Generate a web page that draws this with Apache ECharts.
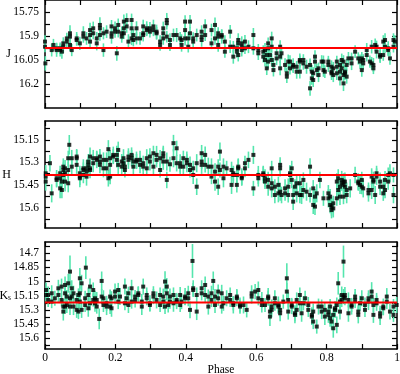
<!DOCTYPE html>
<html><head><meta charset="utf-8">
<script src="https://cdn.jsdelivr.net/npm/echarts@6/dist/echarts.min.js"></script>
<style>html,body{margin:0;padding:0;background:#fff}#c{width:400px;height:374px}</style>
</head><body><div id="c"></div>
<script>
// ---- data ----
const phaseTicks = [0,0.1,0.2,0.3,0.4,0.5,0.6,0.7,0.8,0.9,1];
const phaseLabels = [0,0.2,0.4,0.6,0.8,1];

const jRange = [15.675, 16.35];
const hRange = [15.025, 15.735];
const ksRange = [14.58, 15.715];

const jLabels = [15.75,15.9,16.05,16.2];
const hLabels = [15.15,15.3,15.45,15.6];
const ksLabels = [14.7,14.85,15,15.15,15.3,15.45,15.6];

const jTicks = [15.75,15.825,15.9,15.975,16.05,16.125,16.2,16.275];
const hTicks = [15.075,15.15,15.225,15.3,15.375,15.45,15.525,15.6,15.675];
const ksTicks = [14.625,14.7,14.775,14.85,14.925,15,15.075,15.15,15.225,15.3,15.375,15.45,15.525,15.6,15.675];

const jMean = 15.975;
const hMean = 15.383;
const ksMean = 15.223;

// [phase, magnitude, error]
const jPoints = [
[0.000,15.935,0.040],[0.000,15.967,0.035],[0.001,16.071,0.045],[0.019,15.988,0.040],[0.024,15.956,0.038],
[0.033,15.977,0.035],[0.033,15.988,0.042],[0.043,15.988,0.040],[0.043,15.977,0.036],[0.048,15.998,0.044],
[0.052,15.967,0.040],[0.052,15.946,0.038],[0.062,15.935,0.042],[0.062,15.915,0.036],[0.071,15.904,0.045],
[0.071,15.883,0.050],[0.071,15.956,0.040],[0.076,15.988,0.038],[0.090,15.915,0.040],[0.090,15.925,0.036],
[0.099,15.946,0.042],[0.109,15.904,0.038],[0.109,15.883,0.044],[0.118,15.915,0.040],[0.128,15.863,0.046],
[0.128,15.894,0.036],[0.128,15.935,0.040],[0.137,15.852,0.042],[0.137,15.883,0.038],[0.147,15.915,0.040],
[0.147,15.946,0.044],[0.156,15.831,0.048],[0.156,15.894,0.036],[0.156,15.852,0.040],[0.166,15.988,0.042],
[0.166,15.883,0.038],[0.175,15.873,0.040],[0.189,15.883,0.036],[0.189,15.904,0.044],[0.189,15.840,0.040],
[0.199,15.852,0.042],[0.199,15.873,0.038],[0.204,16.008,0.046],[0.208,15.831,0.040],[0.208,15.873,0.036],
[0.218,15.883,0.042],[0.218,15.904,0.038],[0.224,15.810,0.044],[0.224,15.852,0.040],[0.224,15.883,0.036],
[0.232,15.800,0.042],[0.232,15.840,0.040],[0.237,15.935,0.046],[0.246,15.800,0.040],[0.246,15.852,0.038],
[0.246,15.915,0.042],[0.251,15.894,0.036],[0.251,15.925,0.040],[0.260,15.852,0.044],[0.260,15.915,0.038],
[0.270,15.915,0.040],[0.279,15.840,0.042],[0.279,15.883,0.036],[0.279,15.894,0.040],[0.289,15.863,0.038],
[0.289,15.852,0.044],[0.298,15.852,0.040],[0.298,15.873,0.036],[0.308,15.840,0.042],[0.308,15.863,0.038],
[0.317,15.883,0.040],[0.317,15.873,0.044],[0.327,15.935,0.040],[0.327,15.956,0.036],[0.336,15.852,0.042],
[0.336,15.883,0.038],[0.336,15.915,0.040],[0.346,15.800,0.044],[0.346,15.820,0.040],[0.346,15.904,0.036],
[0.355,15.925,0.042],[0.355,15.956,0.038],[0.365,15.894,0.040],[0.374,15.894,0.044],[0.384,15.915,0.040],
[0.388,15.925,0.036],[0.388,15.956,0.042],[0.398,15.810,0.040],[0.398,15.863,0.038],[0.398,15.915,0.044],
[0.407,15.915,0.040],[0.407,15.967,0.036],[0.412,15.810,0.042],[0.412,15.883,0.040],[0.421,15.915,0.038],
[0.421,15.935,0.044],[0.431,15.894,0.040],
[0.445,15.873,0.040],[0.445,15.904,0.036],[0.445,15.925,0.042],[0.455,15.840,0.044],[0.455,15.894,0.038],
[0.473,15.863,0.040],[0.473,15.946,0.036],[0.483,15.831,0.046],[0.483,15.915,0.040],[0.492,15.883,0.038],
[0.492,15.956,0.042],[0.492,15.904,0.040],[0.502,15.894,0.036],[0.502,15.904,0.044],[0.511,15.935,0.040],
[0.511,15.998,0.038],[0.526,15.873,0.042],[0.526,15.967,0.040],[0.535,15.967,0.036],[0.535,16.029,0.044],
[0.545,15.977,0.040],[0.545,15.998,0.038],[0.549,15.925,0.042],[0.549,15.946,0.036],[0.549,16.019,0.040],
[0.559,15.946,0.044],[0.559,15.988,0.040],[0.559,15.967,0.038],[0.568,15.935,0.042],[0.568,15.977,0.036],
[0.578,15.967,0.040],[0.592,15.894,0.044],[0.592,15.977,0.040],[0.606,15.988,0.038],[0.606,16.008,0.042],
[0.620,15.998,0.040],[0.620,16.029,0.036],[0.625,15.988,0.044],[0.625,16.050,0.040],[0.630,16.019,0.038],
[0.630,16.102,0.042],[0.634,15.977,0.040],[0.634,15.946,0.036],[0.634,16.060,0.044],[0.639,16.019,0.040],
[0.644,15.915,0.042],[0.644,15.967,0.038],[0.644,16.050,0.040],[0.649,16.081,0.044],[0.649,16.113,0.040],
[0.658,16.008,0.036],[0.658,16.040,0.042],[0.668,15.967,0.040],[0.668,16.029,0.038],[0.668,16.102,0.044],
[0.672,16.008,0.040],[0.682,16.081,0.042],[0.687,16.154,0.040],[0.687,16.133,0.036],[0.691,16.060,0.044],
[0.696,16.060,0.040],[0.696,16.102,0.038],[0.705,16.081,0.042],[0.705,16.092,0.040],[0.715,16.092,0.036],
[0.715,16.123,0.044],[0.724,16.050,0.040],[0.724,16.060,0.038],[0.724,16.123,0.042],[0.734,16.071,0.040],
[0.734,16.050,0.036],[0.743,16.092,0.044],[0.753,16.081,0.040],[0.753,16.227,0.046],[0.758,16.123,0.042],
[0.758,16.165,0.040],[0.762,16.175,0.044],[0.762,16.133,0.038],[0.767,16.029,0.040],[0.767,16.060,0.042],
[0.772,16.113,0.040],[0.777,16.102,0.036],[0.777,16.144,0.044],[0.786,16.060,0.040],[0.791,16.060,0.038],
[0.791,16.113,0.042],[0.795,16.123,0.040],[0.805,16.060,0.036],[0.805,16.081,0.044],[0.814,16.092,0.040],
[0.814,16.133,0.042],[0.814,16.123,0.038],[0.819,16.102,0.040],[0.819,16.144,0.044],[0.829,16.092,0.040],
[0.829,16.060,0.036],[0.829,16.133,0.042],[0.838,16.123,0.040],[0.838,16.081,0.038],[0.838,16.165,0.044],
[0.843,16.050,0.040],[0.843,16.102,0.042],[0.848,16.060,0.040],[0.848,16.144,0.036],[0.848,16.196,0.048],
[0.852,16.123,0.040],[0.852,16.133,0.042],[0.857,16.081,0.038],[0.857,16.154,0.044],[0.862,16.040,0.040],
[0.871,16.040,0.036],[0.871,16.071,0.042],[0.881,15.998,0.040],[0.890,16.040,0.038],[0.895,16.060,0.044],
[0.900,16.040,0.040],[0.900,16.113,0.042],[0.904,16.071,0.040],[0.904,16.050,0.036],[0.914,15.988,0.044],
[0.914,16.019,0.040],[0.923,16.060,0.038],[0.928,15.967,0.042],[0.928,16.071,0.040],[0.933,16.102,0.036],
[0.933,16.081,0.044],[0.938,15.956,0.040],[0.942,15.998,0.042],[0.942,15.967,0.038],[0.952,16.029,0.040],
[0.952,16.019,0.044],[0.961,15.935,0.040],[0.961,16.019,0.036],[0.966,15.925,0.042],[0.966,15.967,0.040],
[0.975,15.988,0.038],[0.975,15.977,0.044],[0.980,16.040,0.040],[0.990,15.925,0.042],[0.990,15.967,0.036],
[0.994,15.935,0.040]
];

const hPoints = [
[0.002,15.372,0.055],[0.002,15.394,0.050],[0.002,15.427,0.060],[0.014,15.305,0.055],[0.019,15.505,0.060],
[0.033,15.416,0.050],[0.033,15.405,0.055],[0.043,15.405,0.060],[0.043,15.372,0.050],[0.043,15.472,0.065],
[0.048,15.483,0.055],[0.048,15.427,0.060],[0.052,15.350,0.050],[0.052,15.328,0.055],[0.052,15.383,0.060],
[0.057,15.372,0.050],[0.057,15.339,0.055],[0.057,15.427,0.065],[0.066,15.350,0.055],[0.066,15.272,0.050],
[0.066,15.438,0.060],[0.069,15.183,0.065],[0.076,15.272,0.055],[0.076,15.328,0.050],[0.090,15.272,0.055],
[0.090,15.316,0.060],[0.090,15.261,0.050],[0.099,15.394,0.055],[0.099,15.405,0.060],[0.099,15.372,0.050],
[0.109,15.383,0.055],[0.109,15.350,0.050],[0.109,15.339,0.060],[0.118,15.339,0.055],[0.118,15.361,0.050],
[0.118,15.394,0.060],[0.123,15.316,0.055],[0.123,15.294,0.050],[0.128,15.261,0.060],[0.128,15.350,0.055],
[0.128,15.339,0.050],[0.137,15.272,0.055],[0.137,15.305,0.060],[0.147,15.272,0.050],[0.147,15.283,0.055],
[0.156,15.294,0.060],[0.156,15.261,0.050],[0.156,15.316,0.055],[0.166,15.283,0.050],[0.166,15.339,0.060],
[0.175,15.339,0.055],[0.175,15.283,0.050],[0.180,15.212,0.060],[0.180,15.405,0.055],[0.185,15.394,0.050],
[0.185,15.316,0.060],[0.185,15.272,0.055],[0.194,15.261,0.050],[0.194,15.250,0.055],[0.204,15.250,0.060],
[0.204,15.283,0.050],[0.208,15.217,0.055],[0.208,15.316,0.060],[0.218,15.294,0.050],[0.218,15.328,0.055],
[0.223,15.272,0.060],[0.223,15.305,0.050],[0.227,15.328,0.055],[0.227,15.350,0.050],[0.237,15.283,0.060],
[0.237,15.261,0.055],[0.246,15.250,0.050],[0.246,15.272,0.055],[0.251,15.328,0.060],[0.251,15.294,0.050],
[0.260,15.283,0.055],[0.260,15.294,0.050],[0.270,15.283,0.060],[0.270,15.316,0.055],[0.279,15.305,0.050],
[0.279,15.328,0.055],[0.289,15.272,0.060],[0.289,15.339,0.050],[0.298,15.261,0.055],[0.298,15.294,0.060],
[0.308,15.239,0.050],[0.308,15.328,0.055],[0.317,15.250,0.060],[0.317,15.283,0.050],[0.327,15.272,0.055],
[0.327,15.350,0.050],[0.336,15.261,0.060],[0.336,15.294,0.055],[0.336,15.239,0.050],[0.346,15.416,0.055],
[0.346,15.294,0.060],[0.355,15.312,0.050],[0.365,15.172,0.055],[0.365,15.272,0.060],[0.374,15.206,0.050],
[0.374,15.305,0.055],[0.384,15.305,0.060],[0.384,15.328,0.050],[0.393,15.328,0.055],[0.393,15.272,0.050],
[0.403,15.305,0.060],[0.403,15.283,0.055],[0.412,15.350,0.050],[0.412,15.316,0.055],[0.421,15.383,0.060],
[0.421,15.339,0.050],[0.431,15.461,0.055],[0.431,15.305,0.060],
[0.445,15.239,0.055],[0.445,15.294,0.050],[0.445,15.316,0.060],[0.455,15.250,0.055],[0.455,15.316,0.050],
[0.464,15.328,0.060],[0.473,15.328,0.055],[0.473,15.394,0.050],[0.483,15.361,0.055],[0.483,15.427,0.060],
[0.492,15.328,0.050],[0.492,15.461,0.055],[0.497,15.228,0.060],[0.497,15.350,0.050],[0.507,15.328,0.055],
[0.507,15.405,0.060],[0.516,15.339,0.050],[0.530,15.350,0.055],[0.530,15.449,0.060],[0.535,15.372,0.050],
[0.535,15.383,0.055],[0.545,15.383,0.060],[0.545,15.449,0.050],[0.549,15.328,0.055],[0.549,15.339,0.060],
[0.559,15.405,0.050],[0.559,15.394,0.055],[0.568,15.339,0.060],[0.568,15.305,0.050],[0.578,15.283,0.055],
[0.592,15.250,0.060],[0.592,15.472,0.050],[0.606,15.405,0.055],[0.606,15.383,0.060],[0.620,15.372,0.050],
[0.620,15.383,0.055],[0.625,15.405,0.060],[0.625,15.427,0.050],[0.634,15.416,0.055],[0.634,15.461,0.060],
[0.644,15.339,0.050],[0.644,15.438,0.055],[0.644,15.472,0.060],[0.653,15.516,0.055],[0.653,15.461,0.050],
[0.663,15.505,0.060],[0.663,15.449,0.055],[0.668,15.316,0.050],[0.668,15.339,0.055],[0.668,15.494,0.060],
[0.672,15.516,0.055],[0.682,15.505,0.050],[0.682,15.472,0.060],[0.691,15.461,0.055],[0.691,15.516,0.050],
[0.696,15.372,0.055],[0.696,15.383,0.060],[0.701,15.339,0.050],[0.701,15.416,0.055],[0.705,15.516,0.060],
[0.705,15.560,0.055],[0.710,15.461,0.050],[0.715,15.438,0.055],[0.715,15.505,0.060],[0.724,15.438,0.050],
[0.724,15.516,0.055],[0.729,15.516,0.060],[0.734,15.483,0.055],[0.734,15.416,0.050],[0.743,15.494,0.060],
[0.753,15.328,0.055],[0.753,15.516,0.050],[0.762,15.472,0.055],[0.762,15.582,0.060],[0.767,15.527,0.050],
[0.767,15.593,0.055],[0.772,15.505,0.060],[0.781,15.416,0.055],[0.791,15.538,0.050],[0.805,15.505,0.055],
[0.805,15.538,0.060],[0.810,15.527,0.050],[0.810,15.582,0.055],[0.814,15.593,0.060],[0.814,15.616,0.055],
[0.819,15.571,0.050],[0.819,15.605,0.060],[0.829,15.427,0.055],[0.829,15.538,0.050],[0.833,15.483,0.055],
[0.833,15.405,0.060],[0.838,15.461,0.050],[0.838,15.527,0.055],[0.843,15.416,0.060],[0.843,15.438,0.050],
[0.848,15.427,0.055],[0.848,15.449,0.060],[0.848,15.527,0.050],[0.852,15.461,0.055],[0.852,15.427,0.060],
[0.857,15.483,0.050],[0.857,15.516,0.055],[0.867,15.472,0.060],[0.881,15.383,0.055],[0.890,15.438,0.050],
[0.890,15.427,0.055],[0.895,15.449,0.060],[0.900,15.461,0.050],[0.900,15.416,0.055],[0.904,15.472,0.060],
[0.919,15.505,0.055],[0.919,15.483,0.050],[0.928,15.394,0.055],[0.928,15.483,0.060],[0.933,15.427,0.050],
[0.933,15.416,0.055],[0.938,15.516,0.060],[0.942,15.394,0.055],[0.942,15.372,0.050],[0.952,15.461,0.055],
[0.952,15.427,0.060],[0.961,15.505,0.050],[0.961,15.461,0.055],[0.966,15.416,0.060],[0.966,15.483,0.055],
[0.975,15.383,0.050],[0.975,15.427,0.055],[0.980,15.372,0.060],[0.990,15.516,0.055],[0.990,15.383,0.050]
];

const ksPoints = [
[0.003,15.089,0.080],[0.003,15.142,0.070],[0.009,15.142,0.090],[0.009,15.195,0.075],[0.019,15.124,0.085],
[0.019,15.212,0.070],[0.028,15.177,0.080],[0.038,15.142,0.075],[0.038,15.071,0.090],[0.047,15.053,0.085],
[0.047,15.195,0.070],[0.052,15.265,0.080],[0.052,15.318,0.095],[0.057,15.036,0.090],[0.057,15.124,0.075],
[0.057,15.265,0.080],[0.062,15.248,0.085],[0.062,15.159,0.070],[0.066,15.018,0.100],[0.071,14.894,0.170],
[0.071,15.177,0.080],[0.071,15.265,0.090],[0.076,15.071,0.085],[0.076,15.159,0.075],[0.081,15.124,0.080],
[0.081,15.265,0.090],[0.090,15.300,0.085],[0.090,15.195,0.075],[0.095,15.318,0.080],[0.095,15.142,0.070],
[0.099,14.965,0.110],[0.099,15.212,0.080],[0.099,15.124,0.075],[0.104,15.018,0.090],[0.104,15.300,0.085],
[0.114,15.177,0.080],[0.114,15.248,0.075],[0.116,14.852,0.120],[0.123,15.142,0.080],[0.123,15.283,0.090],
[0.128,15.053,0.085],[0.128,15.230,0.075],[0.137,15.089,0.080],[0.137,15.195,0.070],[0.142,15.230,0.090],
[0.142,15.177,0.080],[0.147,15.265,0.075],[0.147,15.195,0.085],[0.154,15.396,0.110],[0.161,14.993,0.100],
[0.161,15.159,0.080],[0.166,15.248,0.075],[0.166,15.177,0.085],[0.175,15.230,0.080],[0.175,15.265,0.090],
[0.185,15.159,0.075],[0.185,15.265,0.080],[0.189,15.283,0.090],[0.189,15.177,0.075],[0.199,15.159,0.080],
[0.199,15.106,0.085],[0.208,15.089,0.075],[0.208,15.212,0.080],[0.213,15.159,0.090],[0.227,15.053,0.085],
[0.227,15.230,0.075],[0.232,15.177,0.080],[0.237,15.124,0.070],[0.237,15.248,0.085],[0.246,15.071,0.090],
[0.246,15.212,0.075],[0.256,15.195,0.080],[0.256,15.159,0.070],[0.265,15.142,0.085],[0.265,15.124,0.075],
[0.275,15.212,0.080],[0.275,15.265,0.090],[0.279,15.053,0.085],[0.289,15.177,0.075],[0.289,15.142,0.080],
[0.298,15.248,0.070],[0.298,15.230,0.085],[0.308,15.159,0.080],[0.308,15.124,0.075],[0.317,15.195,0.090],
[0.327,15.142,0.080],[0.327,15.248,0.075],[0.336,15.159,0.085],[0.336,15.212,0.080],[0.341,15.000,0.110],
[0.341,15.265,0.080],[0.346,15.053,0.090],[0.346,15.124,0.075],[0.350,15.248,0.080],[0.355,15.159,0.085],
[0.355,15.212,0.075],[0.365,15.142,0.080],[0.365,15.230,0.090],[0.374,15.195,0.075],[0.374,15.212,0.080],
[0.384,15.142,0.085],[0.384,15.248,0.075],[0.388,15.212,0.080],[0.398,15.159,0.090],[0.398,15.177,0.075],
[0.407,15.124,0.080],[0.407,15.177,0.085],[0.412,15.300,0.090],[0.419,14.781,0.180],[0.421,15.071,0.085],
[0.421,15.089,0.075],[0.431,15.318,0.090],[0.431,15.142,0.080],
[0.445,15.071,0.085],[0.445,15.124,0.075],[0.455,15.142,0.080],[0.455,15.036,0.090],[0.464,15.159,0.075],
[0.464,15.265,0.085],[0.473,15.124,0.080],[0.473,15.195,0.075],[0.478,14.993,0.100],[0.483,15.159,0.080],
[0.483,15.248,0.085],[0.492,15.106,0.075],[0.492,15.177,0.080],[0.502,15.124,0.090],[0.502,15.265,0.075],
[0.507,15.230,0.080],[0.516,15.177,0.085],[0.526,15.195,0.075],[0.526,15.142,0.080],[0.535,15.248,0.090],
[0.535,15.230,0.075],[0.545,15.159,0.080],[0.545,15.177,0.085],[0.554,15.265,0.075],[0.554,15.248,0.080],
[0.564,15.248,0.090],[0.573,15.300,0.080],[0.587,15.124,0.085],[0.587,15.159,0.075],[0.597,15.106,0.080],
[0.606,15.089,0.090],[0.606,15.177,0.075],[0.616,15.248,0.080],[0.616,15.195,0.085],[0.625,15.248,0.075],
[0.634,15.177,0.080],[0.634,15.159,0.090],[0.639,15.318,0.085],[0.639,15.371,0.100],[0.644,15.300,0.080],
[0.644,15.265,0.075],[0.653,15.177,0.085],[0.653,15.230,0.080],[0.663,15.265,0.075],[0.663,15.248,0.090],
[0.668,15.300,0.080],[0.668,15.336,0.085],[0.677,15.212,0.075],[0.687,14.965,0.160],[0.687,15.106,0.090],
[0.691,15.195,0.080],[0.691,15.318,0.085],[0.701,15.248,0.075],[0.701,15.265,0.080],[0.710,15.353,0.090],
[0.710,15.336,0.085],[0.715,15.195,0.080],[0.715,15.300,0.075],[0.724,15.230,0.085],[0.724,15.142,0.080],
[0.729,15.336,0.090],[0.734,15.230,0.075],[0.739,15.177,0.080],[0.748,15.248,0.085],[0.748,15.300,0.075],
[0.758,15.353,0.080],[0.758,15.371,0.090],[0.762,15.318,0.085],[0.762,15.424,0.080],[0.772,15.477,0.075],
[0.777,15.265,0.085],[0.786,15.318,0.080],[0.786,15.265,0.075],[0.795,15.371,0.090],[0.795,15.300,0.080],
[0.805,15.353,0.085],[0.805,15.318,0.075],[0.810,15.265,0.080],[0.810,15.389,0.090],[0.814,15.424,0.085],
[0.819,15.495,0.100],[0.819,15.353,0.080],[0.824,15.300,0.085],[0.824,15.283,0.075],[0.829,15.459,0.090],
[0.829,15.248,0.080],[0.833,15.018,0.120],[0.838,15.318,0.085],[0.838,15.212,0.080],[0.843,15.195,0.075],
[0.843,15.142,0.090],[0.848,14.788,0.170],[0.848,15.159,0.080],[0.852,15.142,0.085],[0.852,15.177,0.075],
[0.862,15.195,0.080],[0.862,15.336,0.090],[0.871,15.265,0.085],[0.871,15.248,0.075],[0.881,15.159,0.080],
[0.881,15.195,0.085],[0.890,15.318,0.075],[0.890,15.353,0.090],[0.895,15.230,0.080],[0.900,15.177,0.085],
[0.909,15.300,0.075],[0.909,15.248,0.080],[0.919,15.212,0.090],[0.919,15.177,0.085],[0.928,15.159,0.080],
[0.928,15.106,0.100],[0.933,15.248,0.075],[0.933,15.353,0.085],[0.942,15.230,0.080],[0.942,15.195,0.075],
[0.952,15.371,0.090],[0.952,15.336,0.080],[0.961,15.265,0.085],[0.961,15.283,0.075],[0.971,15.212,0.080],
[0.971,15.159,0.090],[0.980,15.318,0.085],[0.990,15.265,0.080],[0.990,15.353,0.075],[0.999,15.248,0.085]
];

// ---- chart ----
const FONT = 'Liberation Serif';
const GREEN = '#55E6AE';
const bands = [
  {name:'J', pts:jPoints, mean:jMean, range:jRange, labels:jLabels, ticks:jTicks},
  {name:'H', pts:hPoints, mean:hMean, range:hRange, labels:hLabels, ticks:hTicks},
  {name:'{k|K}{s|s}', pts:ksPoints, mean:ksMean, range:ksRange, labels:ksLabels, ticks:ksTicks}
];
const grids = [
  {left:45, top:0, width:352, height:108, outerBoundsMode:'none', containLabel:false},
  {left:45, top:121, width:352, height:107, outerBoundsMode:'none', containLabel:false},
  {left:45, top:242, width:352, height:107, outerBoundsMode:'none', containLabel:false}
];
const lineStyle = {color:'#000', width:1.5};
const xAxis = [], yAxis = [], series = [];
bands.forEach((b, g) => {
  const last = g === 2;
  xAxis.push({
    type:'value', gridIndex:g, min:0, max:1, position:'bottom',
    axisLine:{show:true, onZero:false, lineStyle},
    axisTick:{show:true, inside:true, length:5, customValues:phaseTicks, lineStyle:{color:'#000', width:1.2}},
    axisLabel:{show:last, customValues:phaseLabels, margin:3, fontFamily:FONT, fontSize:11.5, color:'#000'},
    splitLine:{show:false},
    name: last ? 'Phase' : '', nameLocation:'middle', nameGap:15, nameMoveOverlap:false,
    nameTextStyle:{fontFamily:FONT, fontSize:11.5, color:'#000'}
  });
  xAxis.push({
    type:'value', gridIndex:g, min:0, max:1, position:'top',
    axisLine:{show:true, onZero:false, lineStyle},
    axisTick:{show:true, inside:true, length:5, customValues:phaseTicks, lineStyle:{color:'#000', width:1.2}},
    axisLabel:{show:false}, splitLine:{show:false}
  });
  yAxis.push({
    type:'value', gridIndex:g, min:b.range[0], max:b.range[1], inverse:true, position:'left',
    axisLine:{show:true, onZero:false, lineStyle},
    axisTick:{show:true, inside:true, length:5, customValues:b.ticks, lineStyle:{color:'#000', width:1.2}},
    axisLabel:{show:true, customValues:b.labels, margin:6, fontFamily:FONT, fontSize:11.5, color:'#000'},
    splitLine:{show:false},
    name:b.name, nameLocation:'middle', nameRotate:0, nameGap:34, nameMoveOverlap:false,
    nameTextStyle:{fontFamily:FONT, fontSize:12, color:'#000',
      rich:{k:{fontFamily:FONT, fontSize:12, color:'#000'}, s:{fontFamily:FONT, fontSize:7.5, color:'#000', verticalAlign:'bottom', padding:[5,0,0,0]}}}
  });
  yAxis.push({
    type:'value', gridIndex:g, min:b.range[0], max:b.range[1], inverse:true, position:'right',
    axisLine:{show:true, onZero:false, lineStyle},
    axisTick:{show:true, inside:true, length:5, customValues:b.ticks, lineStyle:{color:'#000', width:1.2}},
    axisLabel:{show:false}, splitLine:{show:false}
  });
  series.push({
    type:'custom', xAxisIndex:2*g, yAxisIndex:2*g, data:b.pts, encode:{x:0, y:1}, z:2,
    renderItem:(params, api) => {
      const x = api.value(0), y = api.value(1), e = api.value(2);
      const p1 = api.coord([x, y - e]), p2 = api.coord([x, y + e]);
      return {type:'line', shape:{x1:p1[0], y1:p1[1], x2:p2[0], y2:p2[1]}, style:{stroke:GREEN, lineWidth:1.6}};
    }
  });
  series.push({
    type:'scatter', xAxisIndex:2*g, yAxisIndex:2*g, data:b.pts.map(p => [p[0], p[1]]),
    symbol:'rect', symbolSize:4, itemStyle:{color:'#000'}, z:3
  });
  series.push({
    type:'line', xAxisIndex:2*g, yAxisIndex:2*g, data:[[0, b.mean],[1, b.mean]],
    symbol:'none', lineStyle:{color:'#FF0000', width:2}, z:4
  });
});
const chart = echarts.init(document.getElementById('c'), null, {renderer:'canvas'});
chart.setOption({animation:false, backgroundColor:'#fff', grid:grids, xAxis, yAxis, series});
</script>
</body></html>
